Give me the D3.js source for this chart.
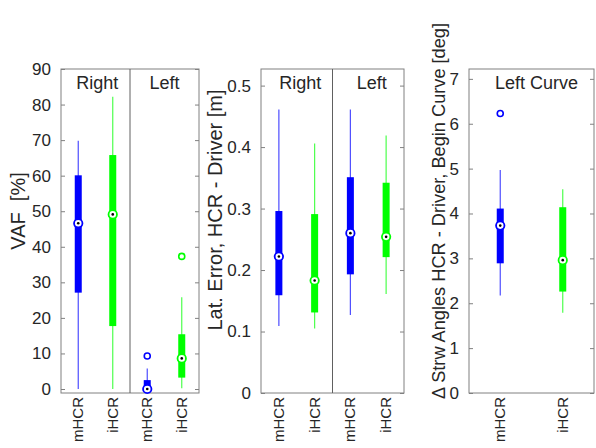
<!DOCTYPE html>
<html>
<head>
<meta charset="utf-8">
<script src="https://cdn.jsdelivr.net/npm/d3@7"></script>
<style>
  body { margin: 0; background: #fff; }
  text { font-family: "Liberation Sans", Arial, Helvetica, sans-serif; fill: #262626; }
</style>
</head>
<body>
<svg id="chart" width="596" height="448"></svg>
<script>
// ---------- data ----------
const categories = ["mHCR", "iHCR", "mHCR", "iHCR"];
const groupTitles = ["Right", "Left"];
const seriesColors = ["#0000ff", "#00ff00", "#0000ff", "#00ff00"];

// Panel 1: VAF [%]
const vafLow     = [0, 0, 0, 0.2];
const vafQ1      = [27.1, 17.7, 0, 3.2];
const vafMedian  = [46.6, 49.1, 0, 8.6];
const vafQ3      = [60.1, 65.8, 2.5, 15.4];
const vafHigh    = [69.8, 82.2, 5.8, 25.8];
const vafOutliers = [[], [], [9.3], [37.3]];
const vafTicks   = [0, 10, 20, 30, 40, 50, 60, 70, 80, 90];

// Panel 2: Lat. Error [m]
const latLow     = [0.109, 0.105, 0.127, 0.161];
const latQ1      = [0.159, 0.131, 0.193, 0.221];
const latMedian  = [0.222, 0.183, 0.260, 0.254];
const latQ3      = [0.296, 0.291, 0.351, 0.342];
const latHigh    = [0.461, 0.406, 0.461, 0.419];
const latOutliers = [[], [], [], []];
const latTicks   = [0, 0.1, 0.2, 0.3, 0.4, 0.5];

// Panel 3: Strw angles [deg]
const strwCategories = ["mHCR", "iHCR"];
const strwTitle = "Left Curve";
const strwColors = ["#0000ff", "#00ff00"];
const strwLow    = [2.17, 1.79];
const strwQ1     = [2.89, 2.26];
const strwMedian = [3.73, 2.96];
const strwQ3     = [4.11, 4.14];
const strwHigh   = [4.97, 4.54];
const strwOutliers = [[6.23], []];
const strwTicks  = [0, 1, 2, 3, 4, 5, 6, 7];

// ---------- drawing ----------
const svg = d3.select("#chart");
const frameTop = 69, frameBottom = 393;

function drawPanel(cfg) {
  const g = svg.append("g");
  const n = cfg.cats.length;
  const x = d3.scaleLinear().domain([0.5, n + 0.5]).range([cfg.left, cfg.right]);
  const y = d3.scaleLinear().domain(cfg.yDomain).range([frameBottom, frameTop]);

  // frame
  g.append("rect").attr("x", cfg.left).attr("y", frameTop)
    .attr("width", cfg.right - cfg.left).attr("height", frameBottom - frameTop)
    .attr("fill", "none").attr("stroke", "#808080").attr("stroke-width", 1);

  // left axis (ticks inward)
  const axL = g.append("g").attr("transform", `translate(${cfg.left},0)`)
    .call(d3.axisLeft(y).tickValues(cfg.ticks).tickFormat(cfg.fmt).tickSizeInner(-4).tickSizeOuter(0).tickPadding(10));
  axL.select(".domain").remove();
  axL.selectAll("line").attr("stroke", "#808080");
  axL.selectAll("text").attr("font-size", 17).attr("fill", "#262626")
    .style("font-family", "'Liberation Sans', Arial, sans-serif");

  // right ticks
  const axR = g.append("g").attr("transform", `translate(${cfg.right},0)`)
    .call(d3.axisRight(y).tickValues(cfg.ticks).tickFormat("").tickSizeInner(-4).tickSizeOuter(0));
  axR.select(".domain").remove();
  axR.selectAll("line").attr("stroke", "#808080");

  // dividers between groups
  (cfg.dividers || []).forEach(d => {
    g.append("line").attr("x1", x(d)).attr("x2", x(d)).attr("y1", frameTop).attr("y2", frameBottom)
      .attr("stroke", "#606060").attr("stroke-width", 1);
  });

  // group titles
  cfg.titles.forEach(t => {
    g.append("text").attr("x", x(t.pos)).attr("y", 89)
      .attr("text-anchor", "middle").attr("font-size", 18).text(t.label);
  });

  // boxes
  const idx = d3.range(n);
  idx.forEach(i => {
    const cx = x(i + 1);
    const col = cfg.colors[i];
    // whisker
    g.append("line").attr("x1", cx).attr("x2", cx)
      .attr("y1", y(cfg.low[i])).attr("y2", y(cfg.high[i]))
      .attr("stroke", col).attr("stroke-width", 1.2).attr("stroke-opacity", 0.7);
    // box
    g.append("rect").attr("x", cx - 3.5).attr("width", 7)
      .attr("y", y(cfg.q3[i])).attr("height", Math.max(0, y(cfg.q1[i]) - y(cfg.q3[i])))
      .attr("fill", col);
    // outliers
    cfg.outliers[i].forEach(v => {
      g.append("circle").attr("cx", cx).attr("cy", y(v)).attr("r", 3)
        .attr("fill", "none").attr("stroke", col).attr("stroke-width", 1.6);
    });
    // median marker
    g.append("circle").attr("cx", cx).attr("cy", y(cfg.med[i])).attr("r", 4.2)
      .attr("fill", "#fff").attr("stroke", col).attr("stroke-width", 1.8);
    g.append("circle").attr("cx", cx).attr("cy", y(cfg.med[i])).attr("r", 1.3)
      .attr("fill", "#000");
    // category label (rotated)
    g.append("text")
      .attr("transform", `translate(${cx + 5},397) rotate(-90)`)
      .attr("text-anchor", "end").attr("font-size", 15).text(cfg.cats[i]);
  });

  // y label
  g.append("text")
    .attr("transform", `translate(${cfg.labelX},${cfg.labelY}) rotate(-90)`)
    .attr("text-anchor", "middle").attr("font-size", cfg.labelSize).text(cfg.ylabel);
}

drawPanel({
  left: 61, right: 199, yDomain: [-1.125, 90], ticks: vafTicks, fmt: d3.format("d"),
  cats: categories, colors: seriesColors,
  low: vafLow, q1: vafQ1, med: vafMedian, q3: vafQ3, high: vafHigh, outliers: vafOutliers,
  dividers: [2.5], titles: [{pos: 1.55, label: groupTitles[0]}, {pos: 3.5, label: groupTitles[1]}],
  ylabel: "VAF\u00a0\u00a0[%]", labelX: 25, labelY: 211, labelSize: 20
});

drawPanel({
  left: 261, right: 404, yDomain: [0, 0.527], ticks: latTicks, fmt: d3.format(".1~f"),
  cats: categories, colors: seriesColors,
  low: latLow, q1: latQ1, med: latMedian, q3: latQ3, high: latHigh, outliers: latOutliers,
  dividers: [2.5], titles: [{pos: 1.6, label: groupTitles[0]}, {pos: 3.6, label: groupTitles[1]}],
  ylabel: "Lat. Error, HCR - Driver [m]", labelX: 222, labelY: 210, labelSize: 20
});

drawPanel({
  left: 469, right: 594, yDomain: [0, 7.22], ticks: strwTicks, fmt: d3.format("d"),
  cats: strwCategories, colors: strwColors,
  low: strwLow, q1: strwQ1, med: strwMedian, q3: strwQ3, high: strwHigh, outliers: strwOutliers,
  dividers: [], titles: [{pos: 1.58, label: strwTitle}],
  ylabel: "\u0394 Strw Angles HCR - Driver, Begin Curve [deg]", labelX: 445, labelY: 211, labelSize: 18.2
});
</script>
</body>
</html>
